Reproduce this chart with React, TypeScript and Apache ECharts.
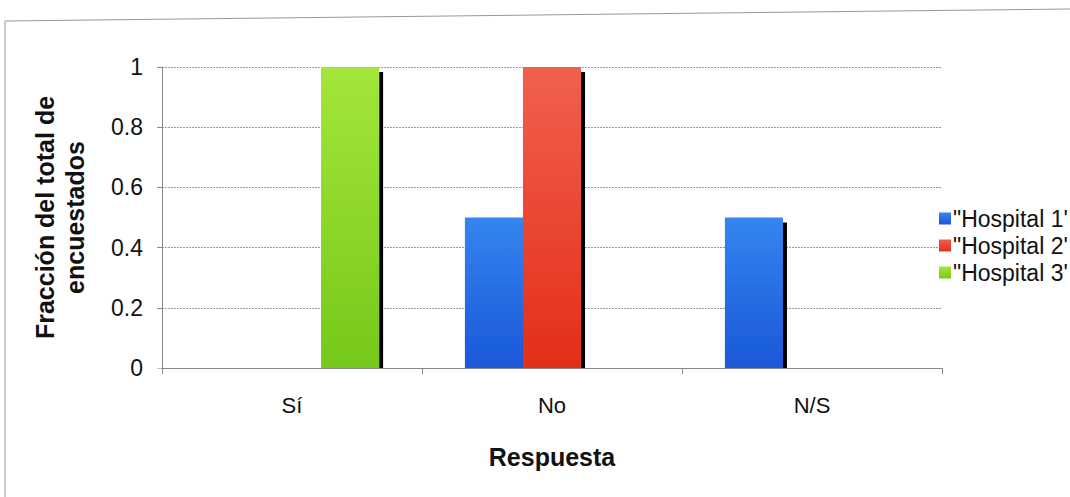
import React, { useEffect, useRef } from "react";
import * as echarts from "echarts";

const categories = ["Sí", "No", "N/S"];
const seriesNames = ['"Hospital 1\'', '"Hospital 2\'', '"Hospital 3\''];
const hospital1 = [0, 0.5, 0.5];
const hospital2 = [0, 1, 0];
const hospital3 = [1, 0, 0];
const yTicks = [0, 0.2, 0.4, 0.6, 0.8, 1];

const grad = (top: string, bottom: string) =>
  new echarts.graphic.LinearGradient(0, 0, 0, 1, [
    { offset: 0, color: top },
    { offset: 1, color: bottom },
  ]);

const FONT = "Liberation Sans, Arial, sans-serif";

export default function App() {
  const ref = useRef<HTMLDivElement>(null);

  useEffect(() => {
    if (!ref.current) return;
    const chart = echarts.init(ref.current, undefined, { renderer: "svg" });
    const barStyle = (top: string, bottom: string) => ({
      color: grad(top, bottom),
      shadowColor: "#000",
      shadowOffsetX: 4,
      shadowOffsetY: 5,
      shadowBlur: 0,
    });
    const values = [hospital1, hospital2, hospital3];
    const colors = [
      ["#3585f0", "#1a58d8"],
      ["#f0604e", "#e42e18"],
      ["#a4e63a", "#76c81a"],
    ];
    chart.setOption({
      animation: false,
      backgroundColor: "#fff",
      textStyle: { fontFamily: FONT },
      grid: { left: 162, right: 128, top: 67, bottom: 129 },
      legend: {
        orient: "vertical",
        left: 934,
        top: 202,
        itemWidth: 12,
        itemHeight: 12,
        itemGap: 4,
        icon: "rect",
        textStyle: { fontSize: 23, color: "#111", fontFamily: FONT, padding: [0, 0, 0, -3] },
        data: seriesNames,
      },
      xAxis: {
        type: "category",
        data: categories,
        z: 10,
        name: "Respuesta",
        nameLocation: "middle",
        nameGap: 76,
        nameTextStyle: { fontSize: 25, fontWeight: "bold", color: "#111" },
        axisLine: { lineStyle: { color: "#888", width: 1 } },
        axisTick: { show: true, length: 6, lineStyle: { color: "#888" } },
        axisLabel: { fontSize: 22, color: "#111", margin: 26 },
      },
      yAxis: {
        type: "value",
        min: 0,
        max: yTicks[yTicks.length - 1],
        interval: 0.2,
        name: "Fracción del total de\nencuestados",
        nameLocation: "middle",
        nameRotate: 90,
        nameGap: 72,
        nameTextStyle: { fontSize: 25, fontWeight: "bold", color: "#111", lineHeight: 30 },
        axisLine: { show: true, lineStyle: { color: "#888" } },
        axisTick: { show: true, length: 5, lineStyle: { color: "#888" } },
        axisLabel: {
          fontSize: 23,
          color: "#111",
          margin: 19,
          formatter: (v: number) => String(Math.round(v * 10) / 10),
        },
        splitLine: { lineStyle: { color: "#999", type: [2, 1] } },
      },
      series: seriesNames.map((name, i) => ({
        name,
        type: "bar",
        data: values[i],
        barGap: "0%",
        barCategoryGap: "33%",
        itemStyle: barStyle(colors[i][0], colors[i][1]),
      })),
      graphic: [
        {
          // keeps the bar shadows from spilling below the category axis
          type: "rect",
          z: 5,
          shape: { x: 150, y: 368.5, width: 800, height: 7 },
          style: { fill: "#fff" },
        },
        {
          type: "line",
          shape: { x1: 5, y1: 21, x2: 1070, y2: 9 },
          style: { stroke: "#999", lineWidth: 1 },
        },
        {
          type: "line",
          shape: { x1: 5, y1: 21, x2: 5, y2: 497 },
          style: { stroke: "#999", lineWidth: 1 },
        },
      ],
    });
    return () => chart.dispose();
  }, []);

  return (
    <div
      ref={ref}
      style={{ position: "fixed", left: 0, top: 0, width: 1070, height: 497 }}
    />
  );
}
